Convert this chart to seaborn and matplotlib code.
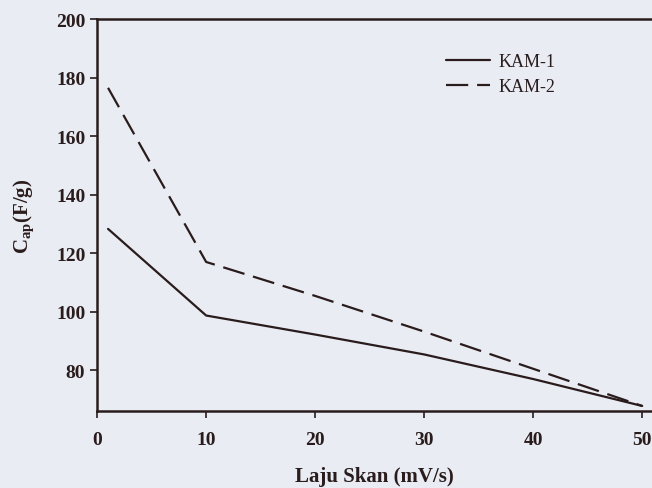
import pandas as pd
import matplotlib
matplotlib.use('Agg')
import matplotlib.pyplot as plt
import seaborn as sns

# scan rate (mV/s) and specific capacitance (F/g)
scan_rate = [1, 10, 20, 30, 40, 50]
kam1 = [128.3, 98.7, 92.2, 85.4, 77.0, 67.8]
kam2 = [176.5, 117.0, 105.4, 93.2, 80.5, 67.8]
x_ticks = [0, 10, 20, 30, 40, 50]
y_ticks = [80, 100, 120, 140, 160, 180, 200]

df = pd.DataFrame({
    'Laju Skan': scan_rate * 2,
    'Cap': kam1 + kam2,
    'Sampel': ['KAM-1'] * len(kam1) + ['KAM-2'] * len(kam2),
})

sns.set_style('ticks')
plt.rcParams['font.family'] = ['Liberation Serif', 'DejaVu Serif']
plt.rcParams['mathtext.fontset'] = 'custom'
plt.rcParams['mathtext.rm'] = 'Liberation Serif'
plt.rcParams['mathtext.bf'] = 'Liberation Serif:bold'

paper = '#e9edf3'
ink = '#2a1c1c'

fig = plt.figure(figsize=(6.52, 4.89), dpi=100, facecolor=paper)
ax = fig.add_axes([0.149, 0.157, 0.851, 0.802])
ax.set_facecolor(paper)

sns.lineplot(data=df, x='Laju Skan', y='Cap', style='Sampel',
             dashes={'KAM-1': '', 'KAM-2': (10, 4)},
             color=ink, linewidth=1.6, ax=ax)

ax.set_xlim(0, 50.9)
ax.set_ylim(66.0, 200)
ax.set_xticks(x_ticks)
ax.set_yticks(y_ticks)
ax.tick_params(direction='out', length=5, width=1.2, colors=ink,
               labelsize=14)
ax.tick_params(axis='x', pad=9)
for lab in ax.get_xticklabels() + ax.get_yticklabels():
    lab.set_fontweight('bold')

for side in ['left', 'bottom', 'top']:
    ax.spines[side].set_linewidth(1.8)
    ax.spines[side].set_color(ink)
ax.spines['right'].set_visible(False)

ax.set_xlabel('Laju Skan (mV/s)', fontsize=15, fontweight='bold', color=ink, labelpad=13)
ax.set_ylabel(r'C$_{\mathbf{ap}}$(F/g)', fontsize=15, fontweight='bold', color=ink, labelpad=14)

leg = ax.legend(loc='upper left', bbox_to_anchor=(0.6, 0.955), frameon=False,
                fontsize=13, handlelength=2.4, handletextpad=0.5,
                labelspacing=0.45, title=None)
for t in leg.get_texts():
    t.set_color(ink)

fig.savefig('out.png', dpi=100, facecolor=paper)
